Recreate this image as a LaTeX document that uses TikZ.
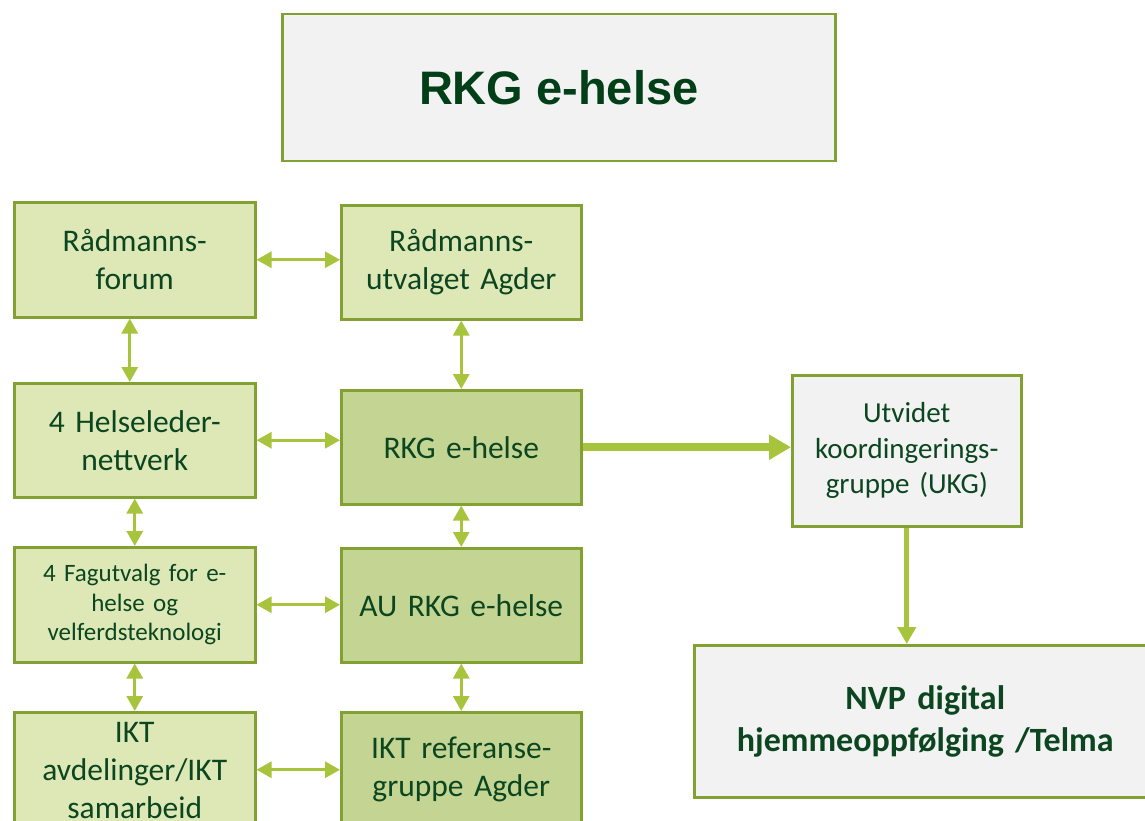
\documentclass[tikz,border=0pt]{standalone}
\usepackage{fontspec}
\setmainfont{Carlito}
\newfontfamily\titlefont{Liberation Sans}
\usetikzlibrary{arrows.meta,calc}
\definecolor{txtgreen}{HTML}{0B4620}
\definecolor{titlegreen}{HTML}{003F17}
\definecolor{bord}{HTML}{83A032}
\definecolor{lightfill}{HTML}{DEE8B7}
\definecolor{darkfill}{HTML}{C4D593}
\definecolor{greyfill}{HTML}{F2F2F2}
\definecolor{arrowgreen}{HTML}{A8C43D}
\tikzset{
  box/.style={draw=bord, line width=2.5pt, inner sep=2pt, align=center,
    text=txtgreen, anchor=north west},
  lbox/.style={box, fill=lightfill},
  dbox/.style={box, fill=darkfill},
  gbox/.style={box, fill=greyfill},
  bigtext/.style={font=\fontsize{31.5}{38}\selectfont},
  midtext/.style={font=\fontsize{29}{35.5}\selectfont},
  smalltext/.style={font=\fontsize{25}{29.5}\selectfont},
  link/.style={draw=arrowgreen, line width=3pt,
    {Triangle[length=15pt,width=16pt]}-{Triangle[length=15pt,width=16pt]}},
  flowthick/.style={draw=arrowgreen, line width=8pt,
    -{Triangle[length=22pt,width=24pt]}},
  flowmid/.style={draw=arrowgreen, line width=5pt,
    -{Triangle[length=17pt,width=18pt]}},
}
\begin{document}
\begin{tikzpicture}[x=1pt,y=-1pt]
\useasboundingbox (0,0) rectangle (1145,821);

% title
\node[gbox, minimum width=553pt, minimum height=147pt, text=titlegreen,
  font=\titlefont\bfseries\fontsize{47}{56}\selectfont] (title) at (281,13) {RKG e-helse};

% left column
\node[lbox, bigtext, minimum width=241pt, minimum height=115pt, text width=236pt] (rforum) at (13,201) {Rådmanns-\\forum};
\node[lbox, bigtext, minimum width=241pt, minimum height=114pt, text width=236pt] (helse) at (13,382) {4 Helseleder-\\nettverk};
\node[lbox, smalltext, minimum width=241pt, minimum height=115pt, text width=236pt] (fag) at (13,546) {4 Fagutvalg for e-\\helse og\\velferdsteknologi};
\node[lbox, bigtext, minimum width=241pt, minimum height=116pt, text width=236pt] (ikt) at (13,711) {IKT\\avdelinger/IKT\\samarbeid};

% middle column
\node[lbox, bigtext, minimum width=240pt, minimum height=114pt, text width=235pt] (rutv) at (340,204) {Rådmanns-\\utvalget Agder};
\node[dbox, bigtext, minimum width=240pt, minimum height=114pt, text width=235pt] (rkg) at (340,389) {RKG e-helse};
\node[dbox, bigtext, minimum width=240pt, minimum height=114pt, text width=235pt] (au) at (340,547) {AU RKG e-helse};
\node[dbox, bigtext, minimum width=240pt, minimum height=115pt, text width=235pt] (iktref) at (340,711) {IKT referanse-\\gruppe Agder};

% right side
\node[gbox, midtext, minimum width=229pt, minimum height=151pt, text width=224pt] (ukg) at (791,374) {Utvidet\\koordingerings-\\gruppe (UKG)};
\node[gbox, font=\bfseries\fontsize{34}{42}\selectfont, minimum width=462pt, minimum height=152pt, text width=440pt] (nvp) at (693,644) {NVP digital\\hjemmeoppfølging /Telma};

% horizontal links
\draw[link] (rforum.east) -- (rutv.west |- rforum.east);
\draw[link] (helse.east) -- (rkg.west |- helse.east);
\draw[link] (fag.east) -- (au.west |- fag.east);
\draw[link] (ikt.east |- iktref.west) -- (iktref.west);

% vertical links
\draw[link] ([xshift=-5pt]rforum.south) -- ([xshift=-5pt]helse.north);
\draw[link] (helse.south) -- (fag.north);
\draw[link] (fag.south) -- (ikt.north);
\draw[link] (rutv.south) -- (rkg.north);
\draw[link] (rkg.south) -- (au.north);
\draw[link] (au.south) -- (iktref.north);

% flow to the coordination group
\draw[flowthick] (rkg.east) -- (ukg.west |- rkg.east);
\draw[flowmid] (ukg.south) -- (ukg.south |- nvp.north);
\end{tikzpicture}
\end{document}
